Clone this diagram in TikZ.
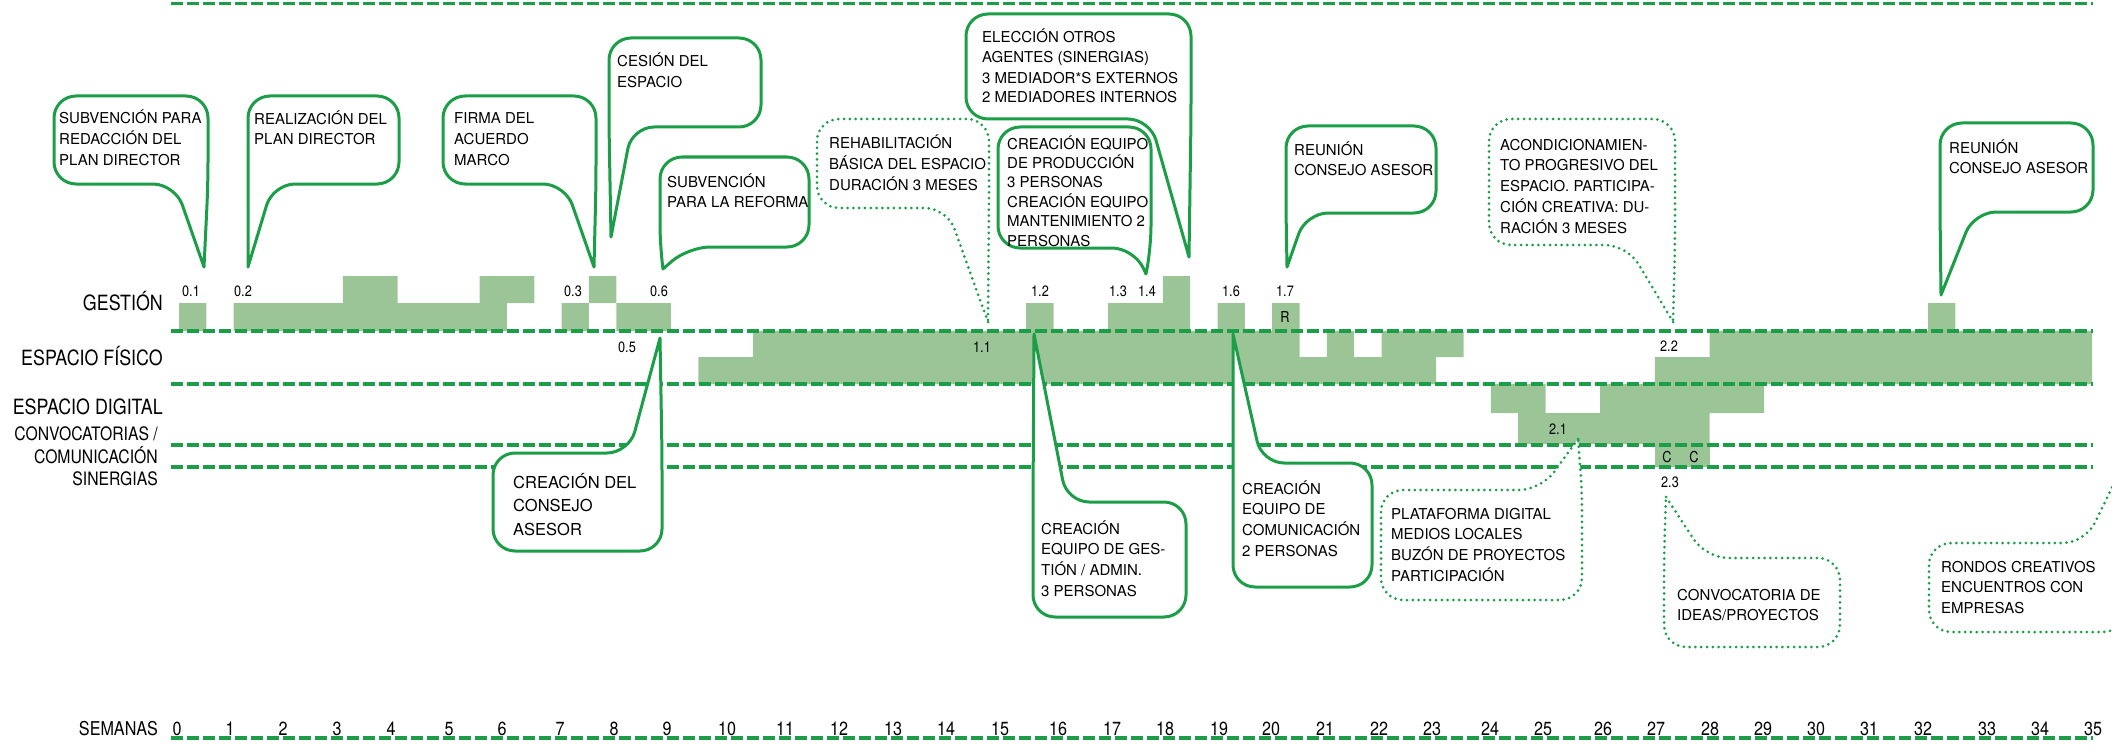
\documentclass[tikz,border=0pt]{standalone}
\usepackage{fontspec}
\setmainfont{TeX Gyre Heros}
\newfontfamily\narrowfont{TeX Gyre Heros}[FakeStretch=0.85]
\usetikzlibrary{positioning}
\definecolor{myGreen}{RGB}{28,158,72}
\definecolor{myBar}{RGB}{155,197,151}

\begin{document}
\begin{tikzpicture}[x=1pt,y=-1pt,line cap=round,
  lane line/.style={draw=myGreen,line width=3.2pt,line cap=butt,dash pattern=on 11.5pt off 4.5pt},
  solid bubble/.style={draw=myGreen,fill=white,line width=3pt,rounded corners=22pt},
  dotted bubble/.style={draw=myGreen,fill=white,line width=3pt,rounded corners=22pt,dash pattern=on 0pt off 5.8pt},
  bubble text/.style={anchor=base west,align=left,inner sep=0pt,font=\fontsize{15}{20.8}\selectfont},
  lane label/.style={anchor=base east,align=right,inner sep=0pt,font=\narrowfont\fontsize{21}{24}\selectfont},
  week label/.style={anchor=base,inner sep=0pt,font=\narrowfont\fontsize{19}{22}\selectfont},
  small label/.style={anchor=base,inner sep=0pt,font=\narrowfont\fontsize{15}{18}\selectfont}]

\useasboundingbox (0,0) rectangle (2112,749);
\clip (0,0) rectangle (2112,749);

% The bars (one cell = half a week)
\begin{scope}[shift={(179,0)},x=27.33pt]
\path[fill=myBar] (0,303) rectangle (1,331) (2,303) rectangle (12,331) (14,303) rectangle (15,331)
  (16,303) rectangle (18,331) (31,303) rectangle (32,331) (34,303) rectangle (37,331)
  (38,303) rectangle (39,331) (40,303) rectangle (41,331) (64,303) rectangle (65,331);
\path[fill=myBar] (6,276) rectangle (8,303) (11,276) rectangle (13,303) (15,276) rectangle (16,303) (36,276) rectangle (37,303);
\path[fill=myBar] (21,331) rectangle (41,357) (42,331) rectangle (43,357) (44,331) rectangle (47,357) (56,331) rectangle (70,357);
\path[fill=myBar] (19,357) rectangle (46,384) (54,357) rectangle (70,384);
\path[fill=myBar] (48,384) rectangle (50,413) (52,384) rectangle (58,413) (49,413) rectangle (56,444);
\path[fill=myBar] (54,444) rectangle (56,467);
\end{scope}

% The lanes
\draw[lane line] (171,3.5) -- (2093,3.5);
\draw[lane line] (171,331) -- (2093,331);
\draw[lane line] (171,384) -- (2093,384);
\draw[lane line] (171,445) -- (2093,445);
\draw[lane line] (171,467) -- (2093,467);
\draw[lane line] (171,738) -- (2093,738);

\node[lane label] (gestion) at (163,310) {GESTIÓN};
\node[lane label] (fisico) at (163,365) {ESPACIO FÍSICO};
\node[lane label] (digital) at (163,414) {ESPACIO DIGITAL};
\node[lane label,font=\narrowfont\fontsize{18.5}{22.5}\selectfont] (convoca) at (158,485.5) {CONVOCATORIAS /\\COMUNICACIÓN\\SINERGIAS};
\node[lane label,font=\narrowfont\fontsize{19}{22}\selectfont] (semanas) at (158,735) {SEMANAS};

% Numbers on the bars
\node[small label] (n01) at (191,296) {0.1};
\node[small label] (n02) at (243,296) {0.2};
\node[small label] (n03) at (573,296) {0.3};
\node[small label] (n06) at (659,296) {0.6};
\node[small label] (n05) at (627,352) {0.5};
\node[small label] (n11) at (982,352) {1.1};
\node[small label] (n12) at (1040,296) {1.2};
\node[small label] (n13) at (1118,296) {1.3};
\node[small label] (n14) at (1147,296) {1.4};
\node[small label] (n16) at (1231,296) {1.6};
\node[small label] (n17) at (1285,296) {1.7};
\node[small label] (nR) at (1285,322) {R};
\node[small label] (n21) at (1558,434) {2.1};
\node[small label] (n22) at (1669,351) {2.2};
\node[small label] (nC1) at (1667,462) {C};
\node[small label] (nC2) at (1694,462) {C};
\node[small label] (n23) at (1670,487) {2.3};

% Weeks
\node[week label] (w0) at (177,735) {0};   \node[week label] (w1) at (230,735) {1};
\node[week label] (w2) at (283,735) {2};   \node[week label] (w3) at (337,735) {3};
\node[week label] (w4) at (391,735) {4};   \node[week label] (w5) at (449,735) {5};
\node[week label] (w6) at (502,735) {6};   \node[week label] (w7) at (560,735) {7};
\node[week label] (w8) at (614,735) {8};   \node[week label] (w9) at (667,735) {9};
\node[week label] (w10) at (727,735) {10}; \node[week label] (w11) at (785,735) {11};
\node[week label] (w12) at (839,735) {12}; \node[week label] (w13) at (893,735) {13};
\node[week label] (w14) at (946,735) {14}; \node[week label] (w15) at (1000,735) {15};
\node[week label] (w16) at (1058,735) {16}; \node[week label] (w17) at (1112,735) {17};
\node[week label] (w18) at (1165,735) {18}; \node[week label] (w19) at (1219,735) {19};
\node[week label] (w20) at (1271,735) {20}; \node[week label] (w21) at (1325,735) {21};
\node[week label] (w22) at (1379,735) {22}; \node[week label] (w23) at (1432,735) {23};
\node[week label] (w24) at (1490,735) {24}; \node[week label] (w25) at (1543,735) {25};
\node[week label] (w26) at (1603,735) {26}; \node[week label] (w27) at (1656,735) {27};
\node[week label] (w28) at (1710,735) {28}; \node[week label] (w29) at (1763,735) {29};
\node[week label] (w30) at (1816,735) {30}; \node[week label] (w31) at (1869,735) {31};
\node[week label] (w32) at (1923,735) {32}; \node[week label] (w33) at (1987,735) {33};
\node[week label] (w34) at (2040,735) {34}; \node[week label] (w35) at (2093,735) {35};

% The bubbles above the lanes (text placed by its last line)
\draw[solid bubble] (204,267) -- (175,184) -- (54,184) -- (54,96) -- (208,96) -- (208,184) -- (204,267);
\node[bubble text] (subvplan) at (59,165.6) {SUBVENCIÓN PARA\\REDACCIÓN DEL\\PLAN DIRECTOR};
\draw[solid bubble] (248,267) -- (273,184) -- (399,184) -- (399,96) -- (248,96) -- (248,184) -- (248,267);
\node[bubble text] (realiza) at (254,144.8) {REALIZACIÓN DEL\\PLAN DIRECTOR};
\draw[solid bubble] (594,267) -- (565,184) -- (443,184) -- (443,96) -- (596,96) -- (596,184) -- (594,267);
\node[bubble text] (firma) at (454,165.6) {FIRMA DEL\\ACUERDO\\MARCO};
\draw[solid bubble] (611,237) -- (632,127) -- (761,127) -- (761,38) -- (609,38) -- (609,127) -- (611,237);
\node[bubble text] (cesion) at (617,87.8) {CESIÓN DEL\\ESPACIO};
\draw[solid bubble] (663,269) -- (688,247) -- (809,247) -- (809,157) -- (660,157) -- (660,247) -- (663,269);
\node[bubble text] (subvref) at (667,207.8) {SUBVENCIÓN\\PARA LA REFORMA};
\draw[dotted bubble] (988,322) -- (947,208) -- (817,208) -- (817,119) -- (989,119) -- (989,208) -- (988,322);
\node[bubble text] (rehab) at (829,190.6) {REHABILITACIÓN\\BÁSICA DEL ESPACIO\\DURACIÓN 3 MESES};
\draw[solid bubble] (1146,274) -- (1134,248) -- (998,248) -- (998,127) -- (1151,127) -- (1151,248) -- (1146,274);
\node[bubble text,font=\fontsize{15}{19.4}\selectfont] (produc) at (1007,246) {CREACIÓN EQUIPO\\DE PRODUCCIÓN\\3 PERSONAS\\CREACIÓN EQUIPO\\MANTENIMIENTO 2\\PERSONAS};
\draw[solid bubble] (1189,257) -- (1150,119) -- (966,119) -- (966,14) -- (1191,14) -- (1191,119) -- (1189,257);
\node[bubble text,font=\fontsize{15}{20}\selectfont] (eleccion) at (982,103) {ELECCIÓN OTROS\\AGENTES (SINERGIAS)\\3 MEDIADOR*S EXTERNOS\\2 MEDIADORES INTERNOS};
\draw[solid bubble] (1287,267) -- (1306,213) -- (1436,213) -- (1436,126) -- (1286,126) -- (1286,213) -- (1287,267);
\node[bubble text] (reunion1) at (1294,175.8) {REUNIÓN\\CONSEJO ASESOR};
\draw[dotted bubble] (1673,322) -- (1627,245) -- (1489,245) -- (1489,119) -- (1675,119) -- (1675,245) -- (1673,322);
\node[bubble text] (acondic) at (1500,233.2) {ACONDICIONAMIEN-\\TO PROGRESIVO DEL\\ESPACIO. PARTICIPA-\\CIÓN CREATIVA: DU-\\RACIÓN 3 MESES};
\draw[solid bubble] (1941,295) -- (1974,212) -- (2093,212) -- (2093,123) -- (1940,123) -- (1940,212) -- (1941,295);
\node[bubble text] (reunion2) at (1949,173.8) {REUNIÓN\\CONSEJO ASESOR};

% The bubbles below the lanes
\draw[solid bubble] (660,338) -- (629,453) -- (493,453) -- (493,551) -- (662,551) -- (662,453) -- (660,338);
\node[bubble text,font=\fontsize{16.5}{23.5}\selectfont] (consejo) at (513,535) {CREACIÓN DEL\\CONSEJO\\ASESOR};
\draw[solid bubble] (1034,334) -- (1067,502) -- (1186,502) -- (1186,617) -- (1033,617) -- (1033,502) -- (1034,334);
\node[bubble text] (gestadm) at (1041,596.4) {CREACIÓN\\EQUIPO DE GES-\\TIÓN / ADMIN.\\3 PERSONAS};
\draw[solid bubble] (1233,334) -- (1262,463) -- (1372,463) -- (1372,587) -- (1233,587) -- (1233,463) -- (1233,334);
\node[bubble text] (comunic) at (1242,556.4) {CREACIÓN\\EQUIPO DE\\COMUNICACIÓN\\2 PERSONAS};
\draw[dotted bubble] (1578,439) -- (1541,490) -- (1381,490) -- (1381,600) -- (1582,600) -- (1582,490) -- (1578,439);
\node[bubble text] (platafor) at (1391,581.4) {PLATAFORMA DIGITAL\\MEDIOS LOCALES\\BUZÓN DE PROYECTOS\\PARTICIPACIÓN};
\draw[dotted bubble] (1666,497) -- (1706,558) -- (1840,558) -- (1840,647) -- (1664,647) -- (1664,558) -- (1666,497);
\node[bubble text] (convideas) at (1677,620.8) {CONVOCATORIA DE\\IDEAS/PROYECTOS};
\draw[dotted bubble] (2140,430) -- (2085,543) -- (1929,543) -- (1929,632) -- (2125,632) -- (2125,543) -- (2140,430);
\node[bubble text] (rondos) at (1941,613.6) {RONDOS CREATIVOS\\ENCUENTROS CON\\EMPRESAS};

\end{tikzpicture}
\end{document}
